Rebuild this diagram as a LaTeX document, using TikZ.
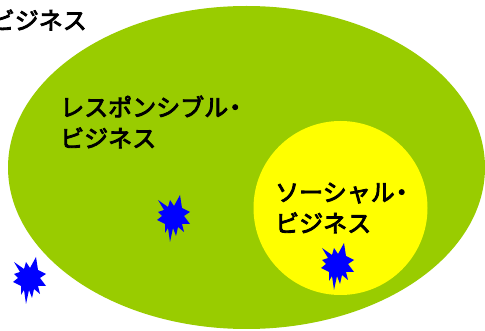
\documentclass[tikz,border=0pt]{standalone}
\usepackage{fontspec}
\newfontfamily\cjk[FakeBold=3.5]{Noto Sans CJK JP}
\definecolor{leafgreen}{RGB}{153,204,0}
\definecolor{socialyellow}{RGB}{255,255,0}
\definecolor{burstblue}{RGB}{0,0,255}
\newcommand{\burst}[1]
{   \fill[burstblue,shift={(#1)}] (7,-22) -- (9,-9) -- (17,-5) -- (11,-1) -- (17,7) -- (9,7) -- (11,15) -- (5,10) -- (3,19) -- (0,11) -- (-3,25) -- (-5,11) -- (-8,16) -- (-8,7) -- (-16,3) -- (-11,-1) -- (-15,-5) -- (-9,-7) -- (-15,-17) -- (-5,-10) -- (-3,-17) -- (1,-11) -- cycle;
}
\newcommand{\middot}{\kern-5pt・}
\tikzset{label text/.style={font=\cjk\fontsize{24}{31}\selectfont,align=left,text=black,inner sep=0pt}}
\begin{document}
\begin{tikzpicture}[x=1pt,y=-1pt]
 \useasboundingbox (0,0) rectangle (485,331);
   \fill[leafgreen] (246.5,167.5) ellipse [x radius=238.5,y radius=161.5];
   \fill[socialyellow] (340.5,208) circle (87);
   \burst{173,217}
   \burst{29,279}
   \burst{337,265}
   \node[label text,anchor=east] (outer) at (87,20) {ビジネス};
   \node[label text,anchor=west] (responsible) at (60,122) {レスポンシブル\middot\\ビジネス};
   \node[label text,anchor=west] (social) at (275,208) {ソーシャル\middot\\ビジネス};
 \end{tikzpicture}
\end{document}
